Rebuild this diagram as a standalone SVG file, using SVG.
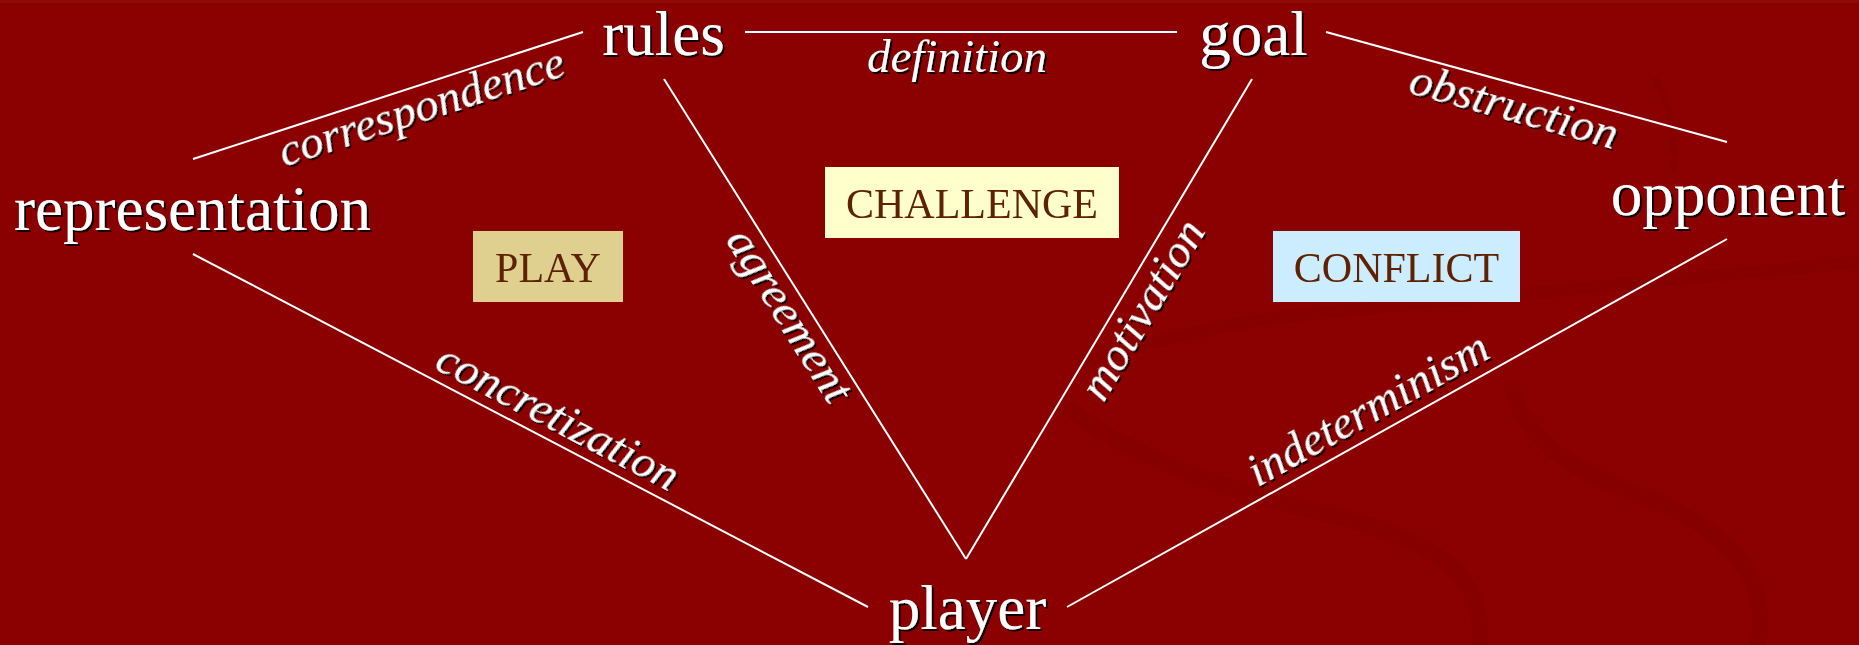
<svg xmlns="http://www.w3.org/2000/svg" width="1859" height="645" viewBox="0 0 1859 645">
<defs>
<filter id="ds" x="-5%" y="-5%" width="110%" height="110%">
<feDropShadow dx="2" dy="2" stdDeviation="0.4" flood-color="#000" flood-opacity="0.9"/>
</filter>
<style>
.node{font-family:"Liberation Serif","Times New Roman",serif;font-size:63px;fill:#fff;text-anchor:middle}
.lbl{font-family:"Liberation Serif","Times New Roman",serif;font-size:47px;font-style:italic;fill:#fff;text-anchor:middle}
.edge{stroke:#fff;stroke-width:2;fill:none}
.box{font-family:"Liberation Serif","Times New Roman",serif;font-size:42px;fill:#5e2200;text-anchor:middle}
.swirl{fill:none;stroke:#830000;stroke-linecap:round}
</style>
</defs>
<rect x="0" y="0" width="1859" height="645" fill="#8b0000"/>
<rect x="0" y="0" width="1859" height="3" fill="#900b06"/>
<g id="background" opacity="0.6">
<path class="swirl" stroke-width="16" d="M1071,410 C1150,470 1250,495 1350,520 C1440,545 1485,575 1480,645"/>
<path class="swirl" stroke-width="16" d="M1512,390 C1530,440 1560,465 1640,495 C1730,530 1770,575 1758,645"/>
<path class="swirl" stroke-width="12" d="M1083,363 C1170,335 1250,318 1330,312 C1450,300 1600,285 1859,262"/>
<path class="swirl" stroke-width="6" d="M1656,80 C1672,110 1676,140 1674,170"/>
</g>
<g id="connectors">
<line class="edge" x1="745" y1="32" x2="1177" y2="32"/>
<line class="edge" x1="193" y1="159" x2="583" y2="32"/>
<line class="edge" x1="1326" y1="32" x2="1727" y2="142"/>
<line class="edge" x1="664" y1="79" x2="966" y2="559"/>
<line class="edge" x1="1252" y1="79" x2="966" y2="559"/>
<line class="edge" x1="193" y1="254" x2="868" y2="607"/>
<line class="edge" x1="1727" y1="239" x2="1067" y2="607"/>
<g filter="url(#ds)">
<text class="lbl" x="957" y="72">definition</text>
<text class="lbl" x="426" y="121" transform="rotate(-18 426 121)">correspondence</text>
<text class="lbl" x="1510" y="121" transform="rotate(15.3 1510 121)">obstruction</text>
<text class="lbl" x="777" y="323" transform="rotate(57.8 777 323)">agreement</text>
<text class="lbl" x="1155" y="317" transform="rotate(-59.2 1155 317)">motivation</text>
<text class="lbl" x="551" y="430" transform="rotate(27.6 551 430)">concretization</text>
<text class="lbl" x="1375" y="422" transform="rotate(-29.1 1375 422)">indeterminism</text>
</g>
</g>
<g id="rules" filter="url(#ds)"><text class="node" x="663.5" y="55">rules</text></g>
<g id="goal" filter="url(#ds)"><text class="node" x="1253.5" y="55">goal</text></g>
<g id="representation" filter="url(#ds)"><text class="node" x="192.5" y="230">representation</text></g>
<g id="opponent" filter="url(#ds)"><text class="node" x="1728" y="215">opponent</text></g>
<g id="player" filter="url(#ds)"><text class="node" x="967.5" y="629">player</text></g>
<g id="play"><rect x="473" y="231" width="150" height="71" fill="#dfd08f"/><text class="box" x="548" y="282">PLAY</text></g>
<g id="challenge"><rect x="825" y="167" width="294" height="71" fill="#ffffcc"/><text class="box" x="972" y="218">CHALLENGE</text></g>
<g id="conflict"><rect x="1273" y="231" width="247" height="71" fill="#ccecff"/><text class="box" x="1396.5" y="282">CONFLICT</text></g>
</svg>
